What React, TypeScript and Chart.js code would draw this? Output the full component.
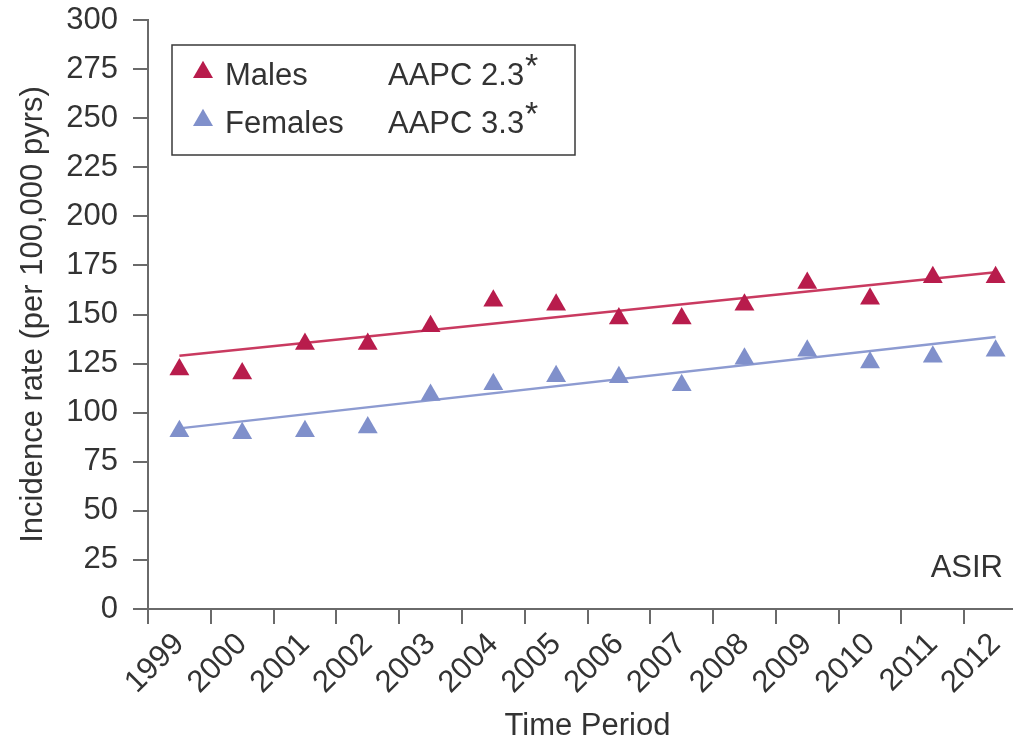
import React, { useEffect, useRef } from 'react';
import { Chart, registerables } from 'chart.js';

Chart.register(...registerables);

// ---- data ----
const years = ['1999', '2000', '2001', '2002', '2003', '2004', '2005', '2006', '2007', '2008', '2009', '2010', '2011', '2012'];
const malesRate = [122, 120, 135, 135, 144, 157, 155, 148, 148, 155, 166, 158, 169, 169];
const femalesRate = [90.5, 89.5, 90.5, 92.5, 109, 114.5, 118.5, 118, 114, 127.5, 131.5, 125.5, 128.5, 131.5];
// fitted trend lines: value at first and last year
const malesTrend = [129, 171.5];
const femalesTrend = [92, 138.5];
const yTicks = { min: 0, max: 300, step: 25 };
const seriesNames = ['Males', 'Females'];
const aapcLabels = ['AAPC 2.3', 'AAPC 3.3'];
const cornerNote = 'ASIR';
const xTitle = 'Time Period';
const yTitle = 'Incidence rate (per 100,000 pyrs)';

// ---- styles ----
const FONT = '"Liberation Sans", Arial, Helvetica, sans-serif';
const TEXT = '#333333';
const AXIS = '#6a6a6a';
const MALE_MARK = '#b81c4c';
const MALE_LINE = '#c93a60';
const FEMALE_MARK = '#8090cb';
const FEMALE_LINE = '#8d9bd1';
const FS = 31;

const overlayPlugin = {
  id: 'overlay',
  afterDraw(chart: any) {
    const { ctx, chartArea: a } = chart;
    ctx.save();
    // legend box
    const bx = a.left + 24;
    const by = a.top + 25;
    const bw = 403;
    const bh = 110;
    ctx.strokeStyle = '#3a3a3a';
    ctx.lineWidth = 1.5;
    ctx.strokeRect(bx, by, bw, bh);

    const rows = [
      { name: seriesNames[0], aapc: aapcLabels[0], color: MALE_MARK, base: by + 40 },
      { name: seriesNames[1], aapc: aapcLabels[1], color: FEMALE_MARK, base: by + 88 },
    ];
    rows.forEach((r) => {
      // triangle marker
      const cx = bx + 31;
      const bottom = r.base - 7;
      const side = 20;
      const h = side * 0.866;
      ctx.beginPath();
      ctx.moveTo(cx, bottom - h);
      ctx.lineTo(cx + side / 2, bottom);
      ctx.lineTo(cx - side / 2, bottom);
      ctx.closePath();
      ctx.fillStyle = r.color;
      ctx.fill();
      // texts
      ctx.fillStyle = TEXT;
      ctx.textBaseline = 'alphabetic';
      ctx.textAlign = 'left';
      ctx.font = `${FS}px ${FONT}`;
      ctx.fillText(r.name, bx + 53, r.base);
      ctx.fillText(r.aapc, bx + 216, r.base);
      const w = ctx.measureText(r.aapc).width;
      ctx.font = `34px ${FONT}`;
      ctx.fillText('*', bx + 216 + w + 1, r.base - 8);
    });

    // corner note
    ctx.font = `${FS}px ${FONT}`;
    ctx.fillStyle = TEXT;
    ctx.textAlign = 'right';
    ctx.textBaseline = 'alphabetic';
    ctx.fillText(cornerNote, a.right - 24, a.bottom - 32);
    ctx.restore();
  },
};

export default function App() {
  const ref = useRef<HTMLCanvasElement | null>(null);

  useEffect(() => {
    if (!ref.current) return;
    const last = years.length - 1;
    const chart = new Chart(ref.current, {
      type: 'line',
      data: {
        labels: years,
        datasets: [
          {
            label: seriesNames[0],
            data: malesRate,
            showLine: false,
            pointStyle: 'triangle',
            pointRadius: 11.5,
            pointBackgroundColor: MALE_MARK,
            pointBorderColor: MALE_MARK,
            pointBorderWidth: 0,
            clip: false,
            order: 0,
          },
          {
            label: seriesNames[1],
            data: femalesRate,
            showLine: false,
            pointStyle: 'triangle',
            pointRadius: 11.5,
            pointBackgroundColor: FEMALE_MARK,
            pointBorderColor: FEMALE_MARK,
            pointBorderWidth: 0,
            clip: false,
            order: 0,
          },
          {
            label: 'Males trend',
            data: [
              { x: years[0], y: malesTrend[0] },
              { x: years[last], y: malesTrend[1] },
            ] as any,
            borderColor: MALE_LINE,
            borderWidth: 2.5,
            pointRadius: 0,
            fill: false,
            order: 1,
          },
          {
            label: 'Females trend',
            data: [
              { x: years[0], y: femalesTrend[0] },
              { x: years[last], y: femalesTrend[1] },
            ] as any,
            borderColor: FEMALE_LINE,
            borderWidth: 2.5,
            pointRadius: 0,
            fill: false,
            order: 1,
          },
        ],
      },
      options: {
        animation: false,
        responsive: false,
        devicePixelRatio: 1,
        layout: { autoPadding: false, padding: { top: 20, right: 0, bottom: 0, left: 0 } },
        plugins: { legend: { display: false }, tooltip: { enabled: false } },
        scales: {
          x: {
            type: 'category',
            offset: true,
            grid: { offset: true, drawOnChartArea: false, color: AXIS, lineWidth: 2, tickLength: 15 },
            border: { color: AXIS, width: 2 },
            ticks: {
              autoSkip: false,
              minRotation: 45,
              maxRotation: 45,
              padding: 2,
              color: TEXT,
              font: { family: FONT, size: FS },
            },
            title: {
              display: true,
              text: xTitle,
              color: TEXT,
              font: { family: FONT, size: FS },
              padding: { top: 0, bottom: 1 },
            },
            afterFit: (s: any) => {
              s.height = 137;
              s.paddingLeft = 0;
              s.paddingRight = 0;
            },
          },
          y: {
            min: yTicks.min,
            max: yTicks.max,
            grid: { drawOnChartArea: false, color: AXIS, lineWidth: 2, tickLength: 15 },
            border: { color: AXIS, width: 2 },
            ticks: {
              stepSize: yTicks.step,
              padding: 15,
              color: TEXT,
              font: { family: FONT, size: FS },
            },
            title: {
              display: true,
              text: yTitle,
              color: TEXT,
              font: { family: FONT, size: FS },
              padding: { top: 15, bottom: 0 },
            },
            afterFit: (s: any) => {
              s.width = 148;
              s.paddingTop = 0;
              s.paddingBottom = 0;
            },
          },
        },
      } as any,
      plugins: [overlayPlugin],
    });
    return () => chart.destroy();
  }, []);

  return (
    <div
      style={{
        position: 'fixed',
        left: 0,
        top: 0,
        width: 1013,
        height: 746,
        overflow: 'hidden',
        background: '#ffffff',
      }}
    >
      <canvas ref={ref} width={1027} height={746} style={{ display: 'block', width: 1027, height: 746 }} />
    </div>
  );
}
